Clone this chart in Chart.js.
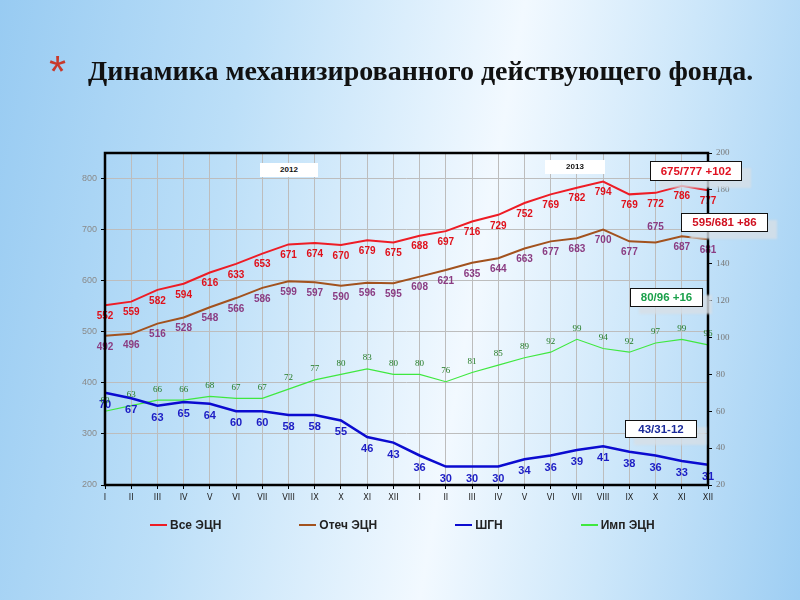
<!DOCTYPE html>
<html lang="ru">
<head>
<meta charset="utf-8">
<title>Динамика механизированного действующего фонда</title>
<script src="https://cdn.jsdelivr.net/npm/chart.js@4.4.1/dist/chart.umd.min.js"></script>
<style>
  html, body { margin: 0; padding: 0; }
  body {
    width: 800px; height: 600px; position: relative; overflow: hidden;
    background: linear-gradient(100deg, #98cbf2 0%, #bcdff8 28%, #f2f9ff 58%, #cde7fa 77%, #9ecef3 100%);
    font-family: 'Liberation Sans', Arial, sans-serif;
  }
  #chart { position: absolute; left: 0; top: 0; }
  .star { position: absolute; left: 49px; top: 47px; color: #c8392b; font: 44px 'Liberation Sans', sans-serif; }
  .title { position: absolute; left: 88px; top: 55px; font: bold 28px 'Liberation Serif', serif; color: #111; white-space: nowrap; }
  .year { position: absolute; background: #fff; font: bold 8px 'Liberation Sans', sans-serif; color: #111;
          text-align: center; line-height: 14px; height: 14px; }
  .note { position: absolute; background: #fff; border: 1px solid #111; font: bold 11.5px 'Liberation Sans', sans-serif;
          text-align: center; box-shadow: 9px 7px 2px rgba(215, 222, 230, 0.8); }
  #legend { position: absolute; left: 150px; top: 518px; display: flex; gap: 78px;
            font: bold 12px 'Liberation Sans', sans-serif; color: #222; }
  #legend span.item { display: flex; align-items: center; }
  #legend i { display: inline-block; width: 17px; height: 2px; margin-right: 3px; }
</style>
</head>
<body>
<canvas id="chart" width="800" height="600"></canvas>
<div class="star">*</div>
<div class="title">Динамика механизированного действующего фонда.</div>
<div class="year" style="left:260px; top:163px; width:58px;" id="y0"></div>
<div class="year" style="left:545px; top:160px; width:60px;" id="y1"></div>
<div class="note" style="left:650px; top:161px; width:90px; height:18px; line-height:18px; color:#e01020;" id="n0"></div>
<div class="note" style="left:681px; top:213px; width:85px; height:17px; line-height:17px; color:#d01020;" id="n1"></div>
<div class="note" style="left:630px; top:288px; width:71px; height:17px; line-height:17px; color:#1aa04a;" id="n2"></div>
<div class="note" style="left:625px; top:420px; width:70px; height:16px; line-height:16px; color:#1a2a9a;" id="n3"></div>
<div id="legend"></div>
<script>
const months = ['I','II','III','IV','V','VI','VII','VIII','IX','X','XI','XII',
                'I','II','III','IV','V','VI','VII','VIII','IX','X','XI','XII'];
const years = ['2012', '2013'];
const notes = ['675/777 +102', '595/681 +86', '80/96 +16', '43/31-12'];

// left axis
const vseEcn   = [552, 559, 582, 594, 616, 633, 653, 671, 674, 670, 679, 675,
                  688, 697, 716, 729, 752, 769, 782, 794, 769, 772, 786, 777];
const otechEcn = [492, 496, 516, 528, 548, 566, 586, 599, 597, 590, 596, 595,
                  608, 621, 635, 644, 663, 677, 683, 700, 677, 675, 687, 681];
// right axis
const shgn     = [70, 67, 63, 65, 64, 60, 60, 58, 58, 55, 46, 43,
                  36, 30, 30, 30, 34, 36, 39, 41, 38, 36, 33, 31];
const impEcn   = [60, 63, 66, 66, 68, 67, 67, 72, 77, 80, 83, 80,
                  80, 76, 81, 85, 89, 92, 99, 94, 92, 97, 99, 96];

years.forEach((y, i) => document.getElementById('y' + i).textContent = y);
notes.forEach((n, i) => document.getElementById('n' + i).textContent = n);

// how the value labels sit next to each line
const labelStyle = [
  { font: 'bold 10px "Liberation Sans", sans-serif', color: '#e0101a', dy: 11 },
  { font: 'bold 10px "Liberation Sans", sans-serif', color: '#8a3c82', dy: 11, shift: { 21: -15 } },
  { font: 'bold 11px "Liberation Sans", sans-serif', color: '#1c1cc4', dy: 12 },
  { font: '9px "Liberation Serif", serif', color: '#237a23', dy: -11 }
];

const valueLabels = {
  id: 'valueLabels',
  afterDatasetsDraw(chart) {
    const ctx = chart.ctx;
    chart.data.datasets.forEach((ds, di) => {
      const meta = chart.getDatasetMeta(di);
      const st = labelStyle[di];
      ctx.save();
      ctx.font = st.font;
      ctx.fillStyle = st.color;
      ctx.textAlign = 'center';
      ctx.textBaseline = 'middle';
      meta.data.forEach((pt, i) => {
        let dy = st.dy;
        if (st.shift && st.shift[i] !== undefined) dy = st.shift[i];
        ctx.fillText(ds.data[i], pt.x, pt.y + dy);
      });
      ctx.restore();
    });
  }
};

const frame = {
  id: 'frame',
  afterDraw(chart) {
    const a = chart.chartArea;
    const ctx = chart.ctx;
    ctx.save();
    ctx.strokeStyle = '#000';
    ctx.lineWidth = 2.5;
    ctx.strokeRect(a.left, a.top, a.right - a.left, a.bottom - a.top);
    ctx.restore();
  }
};

const chart = new Chart(document.getElementById('chart').getContext('2d'), {
  type: 'line',
  data: {
    labels: months,
    datasets: [
      { label: 'Все ЭЦН', data: vseEcn, yAxisID: 'y', borderColor: '#ee1c25', borderWidth: 2 },
      { label: 'Отеч ЭЦН', data: otechEcn, yAxisID: 'y', borderColor: '#a2521e', borderWidth: 2 },
      { label: 'ШГН', data: shgn, yAxisID: 'y1', borderColor: '#0b0bd0', borderWidth: 2.5 },
      { label: 'Имп ЭЦН', data: impEcn, yAxisID: 'y1', borderColor: '#3fe83f', borderWidth: 1.2 }
    ]
  },
  options: {
    responsive: false,
    animation: false,
    layout: { padding: { top: 153, bottom: 85, left: 0, right: 0 } },
    elements: { point: { radius: 0 }, line: { tension: 0 } },
    plugins: { legend: { display: false }, tooltip: { enabled: false } },
    scales: {
      x: {
        offset: false,
        border: { display: false },
        grid: { color: '#bdbdbd', tickColor: '#000', tickLength: 4 },
        ticks: { color: '#222', font: { size: 9, family: '"Liberation Sans Narrow", "DejaVu Sans Condensed", sans-serif' },
                 maxRotation: 0, autoSkip: false, padding: 3 },
        afterFit(s) { s.height = 30; }
      },
      y: {
        position: 'left',
        min: 200, max: 850,
        border: { display: false },
        grid: { color: '#bdbdbd', tickColor: '#000', tickLength: 4 },
        ticks: { stepSize: 100, color: '#8a8a8a', font: { size: 9, family: '"Liberation Sans", sans-serif' }, padding: 4,
                 callback: v => (v > 800 ? null : v) },
        afterFit(s) { s.width = 105; }
      },
      y1: {
        position: 'right',
        min: 20, max: 200,
        border: { display: false },
        grid: { drawOnChartArea: false, tickColor: '#000', tickLength: 4 },
        ticks: { stepSize: 20, color: '#777', font: { size: 9, family: '"Liberation Serif", serif' }, padding: 4 },
        afterFit(s) { s.width = 92; }
      }
    }
  },
  plugins: [valueLabels, frame]
});

// legend built from the datasets
const legend = document.getElementById('legend');
chart.data.datasets.forEach(ds => {
  const item = document.createElement('span');
  item.className = 'item';
  const sw = document.createElement('i');
  sw.style.background = ds.borderColor;
  item.appendChild(sw);
  item.appendChild(document.createTextNode(ds.label));
  legend.appendChild(item);
});
</script>
</body>
</html>
